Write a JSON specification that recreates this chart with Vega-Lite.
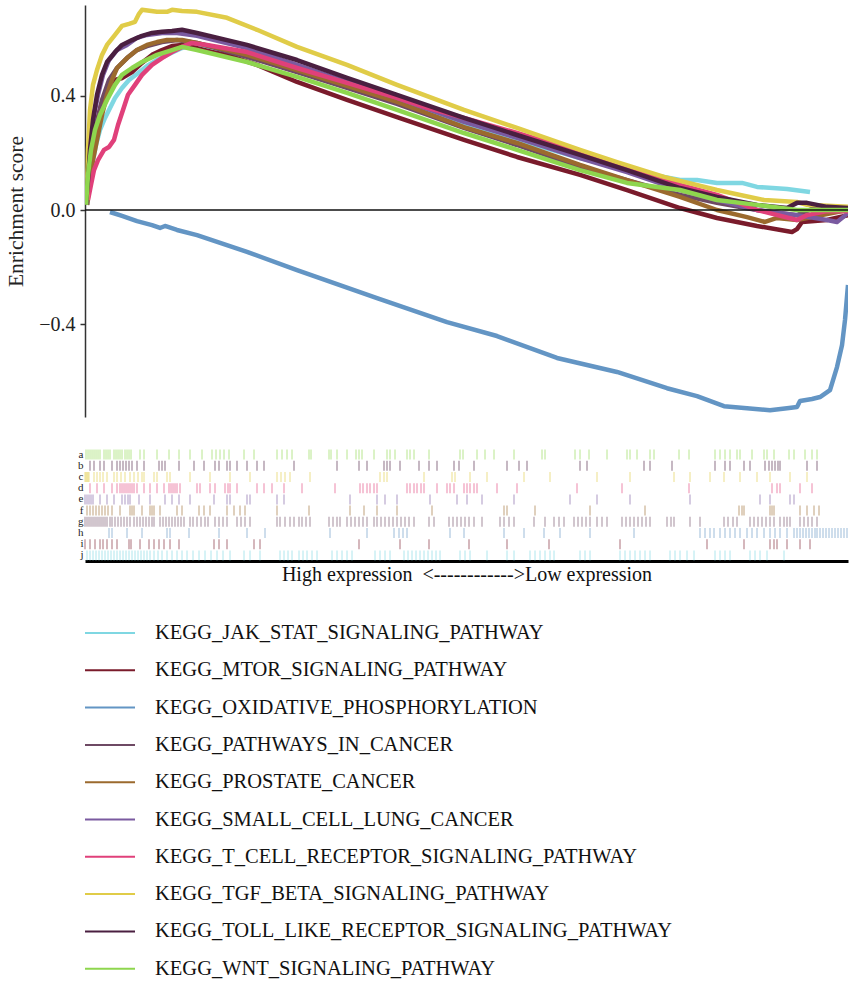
{
  "$schema": "https://vega.github.io/schema/vega-lite/v6.json",
  "padding": {"left": 5, "top": 5, "right": 0, "bottom": 0},
  "background": "white",
  "config": {
    "view": {"stroke": null},
    "font": "Liberation Serif",
    "axis": {"grid": false, "labelFont": "Liberation Serif", "titleFont": "Liberation Serif", "titleFontWeight": "normal", "labelColor": "#222", "titleColor": "#222"}
  },
  "datasets": {
    "curves": [
      {"set": "KEGG_JAK_STAT_SIGNALING_PATHWAY", "r": [2,4,7,11,15,20,25,30,37,44,52,62,72,82,97,112,162,212,262,312,379,432,495,542,595,612,632,657,672,702,725], "v": [0.018,0.088,0.158,0.228,0.281,0.323,0.358,0.393,0.428,0.456,0.477,0.505,0.526,0.544,0.568,0.582,0.544,0.491,0.435,0.379,0.298,0.246,0.182,0.14,0.105,0.105,0.095,0.095,0.081,0.074,0.063]},
      {"set": "KEGG_MTOR_SIGNALING_PATHWAY", "r": [1,4,7,11,16,22,30,37,47,57,67,77,87,97,112,127,142,172,212,262,312,379,432,495,542,595,632,672,707,712,717,742,763], "v": [0.018,0.14,0.228,0.298,0.368,0.421,0.456,0.463,0.484,0.516,0.544,0.561,0.575,0.579,0.568,0.554,0.544,0.509,0.449,0.386,0.326,0.246,0.186,0.123,0.07,0.007,-0.028,-0.056,-0.077,-0.067,-0.042,-0.035,-0.018]},
      {"set": "KEGG_OXIDATIVE_PHOSPHORYLATION", "r": [25,37,52,67,75,80,92,112,162,212,292,362,412,472,532,582,612,639,662,685,702,712,715,727,735,745,752,757,760,763], "v": [-0.007,-0.021,-0.039,-0.053,-0.063,-0.056,-0.07,-0.088,-0.147,-0.211,-0.309,-0.393,-0.442,-0.519,-0.568,-0.625,-0.653,-0.688,-0.695,-0.702,-0.695,-0.691,-0.67,-0.663,-0.656,-0.632,-0.551,-0.474,-0.386,-0.263]},
      {"set": "KEGG_PATHWAYS_IN_CANCER", "r": [2,5,8,12,17,24,32,42,52,62,77,92,112,162,212,262,312,379,432,495,542,595,632,672,712,732,763], "v": [0.018,0.123,0.211,0.298,0.386,0.456,0.498,0.533,0.561,0.575,0.589,0.596,0.586,0.537,0.484,0.428,0.372,0.288,0.228,0.151,0.105,0.053,0.025,0.0,-0.018,0.011,0.0]},
      {"set": "KEGG_PROSTATE_CANCER", "r": [2,5,8,12,17,22,27,32,42,52,62,72,82,97,112,162,212,262,312,379,432,495,542,595,632,662,680,692,712,742,763], "v": [0.018,0.105,0.175,0.246,0.333,0.404,0.456,0.498,0.533,0.561,0.579,0.589,0.596,0.596,0.586,0.544,0.491,0.435,0.379,0.291,0.235,0.158,0.105,0.046,0.0,-0.025,-0.042,-0.028,-0.035,-0.014,0.0]},
      {"set": "KEGG_SMALL_CELL_LUNG_CANCER", "r": [1,3,6,9,13,18,24,32,42,52,62,77,92,112,162,212,262,312,379,432,495,542,595,632,672,712,742,752,763], "v": [0.018,0.14,0.246,0.333,0.404,0.474,0.526,0.561,0.579,0.604,0.614,0.621,0.621,0.611,0.568,0.509,0.449,0.393,0.309,0.253,0.182,0.133,0.07,0.035,0.0,-0.018,-0.035,-0.042,-0.011]},
      {"set": "KEGG_T_CELL_RECEPTOR_SIGNALING_PATHWAY", "r": [3,6,9,13,19,24,29,33,38,43,50,57,67,77,87,97,107,122,162,212,262,312,342,357,379,432,495,542,595,632,672,712,722,742,763], "v": [0.035,0.088,0.14,0.175,0.211,0.221,0.246,0.298,0.351,0.404,0.439,0.474,0.509,0.533,0.554,0.572,0.586,0.579,0.554,0.498,0.446,0.393,0.358,0.344,0.323,0.27,0.204,0.151,0.088,0.053,0.0,-0.035,-0.018,-0.004,-0.004]},
      {"set": "KEGG_TGF_BETA_SIGNALING_PATHWAY", "r": [2,3,5,8,12,17,22,30,37,44,50,54,57,72,82,87,97,112,142,172,212,262,312,379,432,495,532,579,632,679,712,722,763], "v": [0.035,0.211,0.351,0.439,0.491,0.544,0.579,0.614,0.646,0.653,0.66,0.688,0.702,0.695,0.695,0.702,0.698,0.695,0.674,0.632,0.572,0.509,0.439,0.351,0.288,0.211,0.168,0.116,0.07,0.035,0.028,0.018,0.011]},
      {"set": "KEGG_TOLL_LIKE_RECEPTOR_SIGNALING_PATHWAY", "r": [1,3,5,8,12,17,22,30,37,47,57,67,77,87,97,112,162,212,262,312,379,432,495,542,595,632,672,702,712,722,742,763], "v": [0.018,0.105,0.211,0.316,0.404,0.474,0.519,0.554,0.579,0.596,0.611,0.621,0.625,0.628,0.632,0.621,0.579,0.526,0.463,0.404,0.323,0.263,0.193,0.14,0.077,0.046,0.018,0.007,0.025,0.025,0.011,0.007]},
      {"set": "KEGG_WNT_SIGNALING_PATHWAY", "r": [1,3,6,10,15,22,30,37,47,57,72,87,97,112,162,212,262,312,379,432,495,542,595,632,672,712,763], "v": [0.018,0.123,0.211,0.281,0.333,0.386,0.439,0.474,0.498,0.519,0.544,0.561,0.572,0.561,0.519,0.467,0.411,0.351,0.27,0.211,0.14,0.095,0.07,0.035,0.018,0.0,0.0]}
    ],
    "hits": [
      {"set": "KEGG_WNT_SIGNALING_PATHWAY", "row": "a", "r": [1,3,5,7,9,11,13,15,19,21,23,25,29,31,33,35,37,40,42,44,46,55,59,72,84,94,105,117,127,131,135,139,144,159,169,192,197,202,207,224,226,244,246,252,262,271,274,277,289,302,305,310,322,325,329,344,375,378,392,400,409,429,457,460,490,495,504,522,542,545,552,565,569,594,604,630,635,640,645,652,655,667,679,682,689,704,709,720,727,732]},
      {"set": "KEGG_TOLL_LIKE_RECEPTOR_SIGNALING_PATHWAY", "row": "b", "r": [5,9,15,19,27,32,35,38,41,44,47,52,59,74,77,80,94,109,119,130,134,142,145,152,162,172,179,209,252,274,282,299,302,305,315,334,344,352,369,374,389,422,434,442,495,502,559,565,587,630,640,645,659,665,680,684,687,690,693,695,722,732]},
      {"set": "KEGG_TGF_BETA_SIGNALING_PATHWAY", "row": "c", "r": [0,1,2,3,4,9,12,15,18,22,29,32,36,40,45,49,53,57,59,69,72,82,85,105,125,145,165,192,196,200,205,225,295,299,302,339,367,370,385,402,439,465,512,545,589,605,625,639,655,672,685,705,722]},
      {"set": "KEGG_T_CELL_RECEPTOR_SIGNALING_PATHWAY", "row": "d", "r": [5,12,19,27,32,35,37,39,41,43,45,47,49,52,59,65,72,79,84,86,88,90,92,95,112,115,125,130,140,143,145,152,172,179,187,199,217,250,275,278,282,285,289,292,322,325,329,332,336,339,352,362,365,369,379,382,385,389,392,412,432,492,537,604,687,692,695,715,727]},
      {"set": "KEGG_SMALL_CELL_LUNG_CANCER", "row": "e", "r": [0,2,4,6,8,15,22,29,37,40,43,45,54,65,80,87,94,105,129,142,145,162,165,192,199,265,292,300,312,345,372,382,397,429,485,512,545,605,675,685,705,709]},
      {"set": "KEGG_PROSTATE_CANCER", "row": "f", "r": [2,5,8,11,14,17,20,23,27,35,45,47,49,57,65,67,69,75,92,97,114,119,125,142,149,155,160,192,224,265,279,292,312,347,419,422,450,505,560,654,657,659,685,687,689,715,722,729,734]},
      {"set": "KEGG_PATHWAYS_IN_CANCER", "row": "g", "r": [0,2,4,6,8,10,12,14,16,18,20,22,25,27,30,33,36,39,42,45,49,52,55,58,61,64,67,69,75,78,81,84,87,90,93,96,99,105,108,112,116,120,123,130,134,138,142,152,156,160,165,192,195,200,205,209,214,217,221,225,244,248,252,255,262,266,270,274,278,282,289,292,296,300,304,308,312,316,320,324,329,344,349,364,368,372,376,380,384,389,397,415,419,424,429,449,460,469,474,479,489,493,497,501,505,512,517,522,537,541,545,549,553,557,561,565,582,586,589,605,615,639,643,648,652,665,669,673,677,681,685,689,695,699,702,705,715,719,723,727,732]},
      {"set": "KEGG_OXIDATIVE_PHOSPHORYLATION", "row": "h", "r": [24,27,42,57,82,85,104,134,162,180,245,282,309,314,318,322,365,379,419,439,459,475,505,549,615,620,625,629,635,640,645,650,655,662,667,672,679,685,690,695,702,709,712,715,718,721,724,727,730,732,735,738,741,744,747,750,753,756,759,762]},
      {"set": "KEGG_MTOR_SIGNALING_PATHWAY", "row": "i", "r": [0,5,10,15,18,22,27,32,44,46,55,64,69,74,79,85,94,129,134,142,169,175,274,315,344,384,422,464,535,622,659,685,689,692,702,715,725]},
      {"set": "KEGG_JAK_STAT_SIGNALING_PATHWAY", "row": "j", "r": [2,5,8,11,14,17,20,23,26,29,32,35,38,41,44,47,50,53,56,59,62,65,69,73,77,82,87,92,97,102,108,114,120,126,132,138,145,159,165,175,195,199,203,207,214,218,222,227,232,247,252,257,262,267,290,295,300,305,319,323,327,331,335,339,343,347,351,355,375,380,385,402,422,429,445,450,455,460,465,469,495,500,505,535,540,545,550,555,560,565,585,590,595,602,609,630,635,640,645,665,670,675,682,699]}
    ]
  },
  "bounds": "flush",
  "spacing": 32,
  "resolve": {"scale": {"color": "independent", "x": "independent", "y": "independent"}, "legend": {"color": "independent"}},
  "vconcat": [
    {
      "width": 763,
      "height": 412,
      "layer": [
        {
          "data": {"name": "curves"},
          "transform": [{"flatten": ["r", "v"]}],
          "mark": {"type": "line", "strokeWidth": 4.5, "strokeJoin": "round", "clip": true},
          "encoding": {
            "x": {"field": "r", "type": "quantitative", "scale": {"domain": [0, 763], "nice": false, "zero": false}, "axis": null},
            "y": {"field": "v", "type": "quantitative", "title": "Enrichment score", "scale": {"domain": [-0.726, 0.719], "nice": false, "zero": false},
              "axis": {"title": "Enrichment score", "values": [-0.4, 0, 0.4], "format": ".1f", "labelFontSize": 20, "titleFontSize": 21.5, "tickSize": 5, "labelPadding": 5, "titlePadding": 11, "domainColor": "#333", "domainWidth": 1.5, "tickColor": "#333", "tickWidth": 1.5}},
            "color": {"field": "set", "type": "nominal",
              "scale": {"domain": ["KEGG_JAK_STAT_SIGNALING_PATHWAY", "KEGG_MTOR_SIGNALING_PATHWAY", "KEGG_OXIDATIVE_PHOSPHORYLATION", "KEGG_PATHWAYS_IN_CANCER", "KEGG_PROSTATE_CANCER", "KEGG_SMALL_CELL_LUNG_CANCER", "KEGG_T_CELL_RECEPTOR_SIGNALING_PATHWAY", "KEGG_TGF_BETA_SIGNALING_PATHWAY", "KEGG_TOLL_LIKE_RECEPTOR_SIGNALING_PATHWAY", "KEGG_WNT_SIGNALING_PATHWAY"],
                "range": ["#7fd7e2", "#7a1b2b", "#6395c4", "#6e4a64", "#9b6a2e", "#7a5aa0", "#e0407a", "#e0cc48", "#4a1f40", "#8ed64e"]},
              "legend": {"title": null, "orient": "none", "legendX": -1, "legendY": 617, "symbolType": "stroke", "symbolSize": 2500, "symbolStrokeWidth": 2, "symbolOpacity": 1, "labelFont": "Liberation Serif", "labelFontSize": 20.5, "labelColor": "#111", "labelOffset": 19, "labelLimit": 900, "rowPadding": 15.3, "clipHeight": 22, "padding": 0}}
          }
        },
        {
          "data": {"values": [{}]},
          "mark": {"type": "rule", "color": "#111", "strokeWidth": 1.5},
          "encoding": {"y": {"datum": 0, "type": "quantitative", "title": "Enrichment score",
            "axis": {"title": "Enrichment score", "values": [-0.4, 0, 0.4], "format": ".1f", "labelFontSize": 20, "titleFontSize": 21.5, "tickSize": 5, "labelPadding": 5, "titlePadding": 11, "domainColor": "#333", "domainWidth": 1.5, "tickColor": "#333", "tickWidth": 1.5}}}
        }
      ]
    },
    {
      "width": 763,
      "height": 112,
      "data": {"name": "hits"},
      "transform": [{"flatten": ["r"]}],
      "mark": {"type": "tick", "thickness": 1.4, "size": 10, "opacity": 0.45},
      "encoding": {
        "x": {"field": "r", "type": "quantitative", "scale": {"domain": [0, 763], "nice": false, "zero": false},
          "axis": {"title": "High expression \u00a0<------------>Low expression", "labels": false, "ticks": false, "domainColor": "#000", "domainWidth": 3, "titleFontSize": 20, "titlePadding": 3, "titleColor": "#111"}},
        "y": {"field": "row", "type": "nominal", "scale": {"type": "band", "paddingInner": 0, "paddingOuter": 0},
          "axis": {"title": null, "ticks": false, "domain": false, "labelFontSize": 11, "labelPadding": 2, "labelColor": "#222"}},
        "color": {"field": "set", "type": "nominal", "legend": null,
          "scale": {"domain": ["KEGG_JAK_STAT_SIGNALING_PATHWAY", "KEGG_MTOR_SIGNALING_PATHWAY", "KEGG_OXIDATIVE_PHOSPHORYLATION", "KEGG_PATHWAYS_IN_CANCER", "KEGG_PROSTATE_CANCER", "KEGG_SMALL_CELL_LUNG_CANCER", "KEGG_T_CELL_RECEPTOR_SIGNALING_PATHWAY", "KEGG_TGF_BETA_SIGNALING_PATHWAY", "KEGG_TOLL_LIKE_RECEPTOR_SIGNALING_PATHWAY", "KEGG_WNT_SIGNALING_PATHWAY"],
            "range": ["#7fd7e2", "#7a1b2b", "#6395c4", "#6e4a64", "#9b6a2e", "#7a5aa0", "#e0407a", "#e0cc48", "#4a1f40", "#8ed64e"]}}
      }
    }
  ]
}
